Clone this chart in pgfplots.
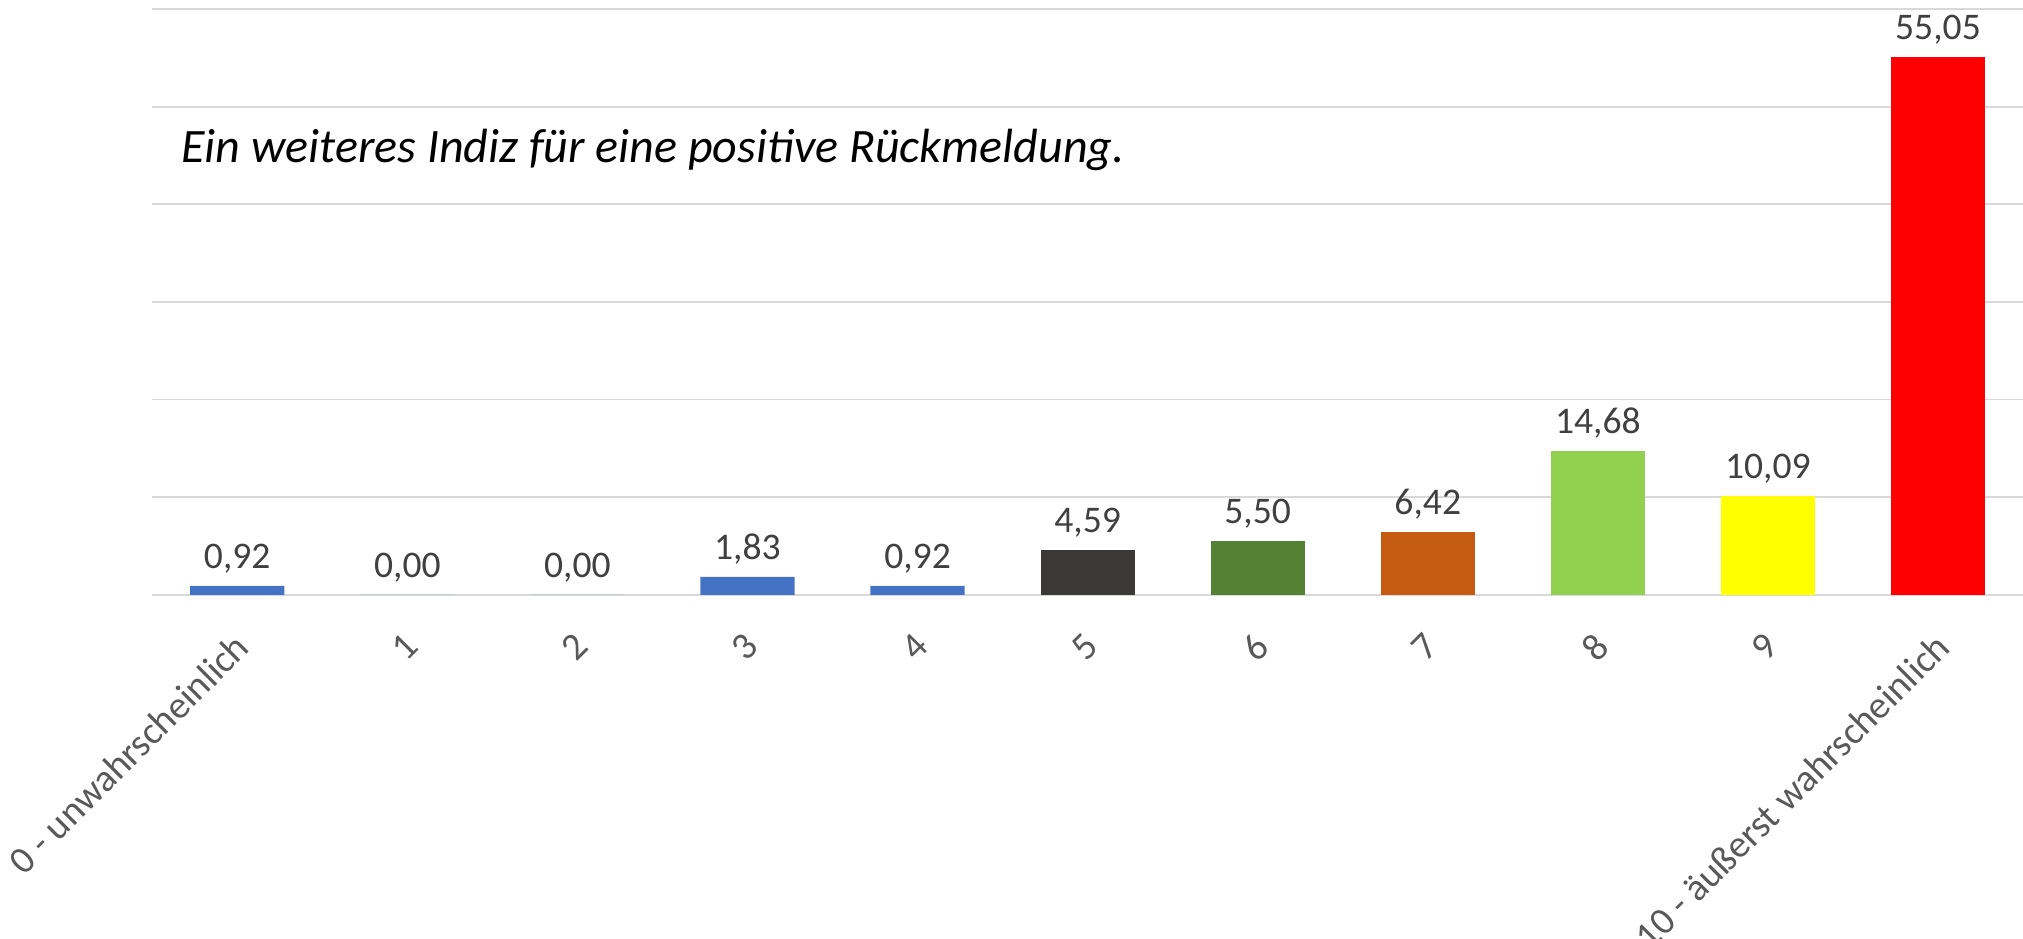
\documentclass[border=0pt]{standalone}
\usepackage{fontspec}
\setmainfont{Carlito}
\usepackage{pgfplots}
\pgfplotsset{compat=1.18}

\definecolor{blau}{HTML}{4472C4}
\definecolor{dunkel}{HTML}{3B3838}
\definecolor{gruen}{HTML}{548235}
\definecolor{orange}{HTML}{C55A11}
\definecolor{hellgruen}{HTML}{92D050}
\definecolor{gelb}{HTML}{FFFF00}
\definecolor{rot}{HTML}{FF0000}
\definecolor{gitter}{HTML}{D9D9D9}
\definecolor{beschr}{HTML}{595959}
\definecolor{wert}{HTML}{404040}

\begin{document}
\begin{tikzpicture}
\useasboundingbox (-38.05pt,-86.05pt) rectangle (467.7pt,148.7pt);
\begin{axis}[
    scale only axis,
    width=467.7pt, height=146.45pt,
    xmin=-0.5, xmax=10.5,
    ymin=0, ymax=60,
    clip=false,
    ybar, bar width=0.554, bar shift=0pt,
    xtick={0,...,10},
    xticklabels={0 - unwahrscheinlich,1,2,3,4,5,6,7,8,9,10 - äußerst wahrscheinlich},
    xticklabel style={xshift=-1.2pt, yshift=-4.5pt, rotate=45, anchor=north east, inner sep=0pt,
        font=\fontsize{9.6}{12}\selectfont, text=beschr},
    ytick={0,10,...,60}, yticklabels={},
    ymajorgrids,
    grid style={draw=gitter, line width=0.45pt},
    axis line style={draw=none},
    major tick style={draw=none},
    nodes near coords={\pgfmathprintnumber[fixed,fixed zerofill,precision=2,use comma,assume math mode=true]{\pgfplotspointmeta}},
    nodes near coords style={font=\fontsize{9.4}{11}\selectfont, text=wert, inner sep=0pt, anchor=south, yshift=3pt},
]
\addplot[fill=blau, draw=none] coordinates {(0,0.92) (1,0) (2,0) (3,1.83) (4,0.92)};
\addplot[fill=dunkel, draw=none] coordinates {(5,4.59)};
\addplot[fill=gruen, draw=none] coordinates {(6,5.50)};
\addplot[fill=orange, draw=none] coordinates {(7,6.42)};
\addplot[fill=hellgruen, draw=none] coordinates {(8,14.68)};
\addplot[fill=gelb, draw=none] coordinates {(9,10.09)};
\addplot[fill=rot, draw=none] coordinates {(10,55.05)};
\node[anchor=base west, inner sep=0pt, font=\fontsize{12}{14}\selectfont\itshape] at (rel axis cs:0.0152,0.7375) {Ein weiteres Indiz für eine positive Rückmeldung.};
\end{axis}
\end{tikzpicture}
\end{document}
